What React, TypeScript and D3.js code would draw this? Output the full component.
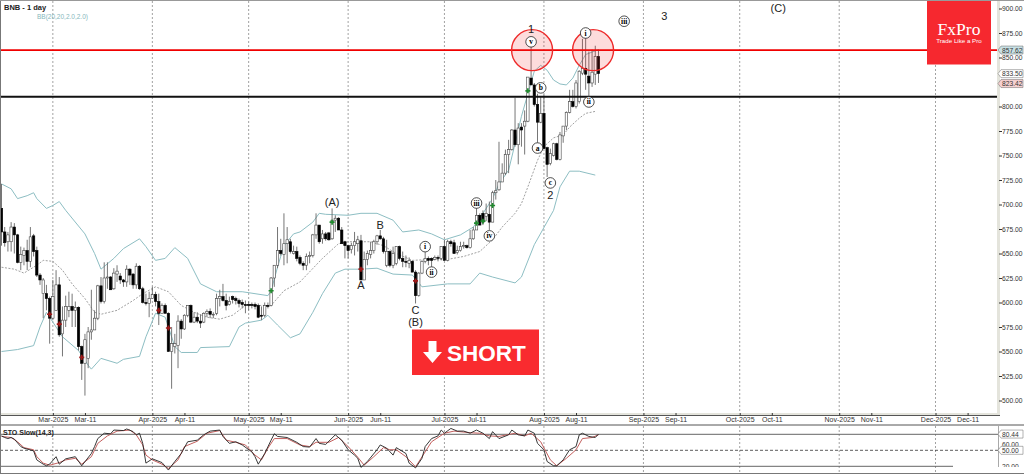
import { useEffect, useRef } from 'react'
import * as d3 from 'd3'

const WIDTH = 1024
const HEIGHT = 474
const firstDay = new Date(Date.UTC(2025, 1, 13))

// open, high, low, close, one row per day from 13 Feb 2025
const candles: number[][] = [
  [696,721,658,672],[672,677,657,661],[662,672,652,669],[662,682,652,677],[677,681,650,669],
  [669,670,640,641],[641,657,633,649],[648,656,638,653],[653,664,633,642],[642,677,636,667],
  [668,670,647,652],[653,657,626,628],[628,630,618,623],[609,625,584,623],[609,618,592,604],
  [604,606,558,584],[584,623,582,606],[592,633,592,618],[618,626,565,567],[568,596,545,582],
  [582,607,575,596],[592,611,585,596],[596,609,575,592],[592,601,575,595],[595,596,551,555],
  [555,556,521,538],[538,568,505,562],[543,575,533,570],[570,613,562,572],[572,592,572,584],
  [584,618,582,617],[617,626,599,601],[601,641,599,625],[625,641,614,626],[626,627,613,613],
  [614,635,613,630],[629,638,621,632],[627,630,619,623],[623,624,616,621],[621,638,616,634],
  [634,635,618,628],[629,630,614,618],[618,640,614,637],[637,638,613,614],[614,616,599,600],
  [600,609,597,599],[599,611,585,604],[604,616,604,608],[608,611,596,601],[601,609,577,589],
  [589,599,589,597],[597,599,589,589],[589,590,550,550],[550,575,512,558],[555,568,548,558],
  [556,587,533,581],[581,583,563,573],[573,588,572,587],[587,597,585,597],[597,598,579,580],
  [580,590,579,585],[585,590,579,581],[581,588,574,579],[580,590,579,589],[589,593,585,591],
  [591,594,584,588],[588,590,584,588],[589,609,587,604],[604,613,596,606],[606,619,601,602],
  [602,609,592,597],[598,606,597,601],[606,607,599,603],[604,606,598,602],[602,604,595,599],
  [600,603,594,598],[598,602,589,597],[598,601,592,597],[598,600,594,597],[598,600,593,596],
  [597,599,584,585],[587,596,582,586],[587,600,585,597],[597,600,594,596],[597,626,596,625],
  [625,638,616,638],[638,677,635,653],[653,665,648,650],[649,691,638,660],[660,677,640,664],
  [662,665,650,652],[650,658,649,652],[652,657,642,645],[646,648,638,640],[640,642,633,638],
  [638,650,633,647],[647,652,640,648],[648,670,646,669],[669,691,665,679],[679,679,660,662],
  [665,674,660,670],[670,672,663,665],[671,672,663,664],[665,696,664,684],[684,689,672,686],
  [686,687,674,674],[674,677,660,660],[662,663,645,658],[658,659,645,653],[654,661,650,658],
  [658,672,648,662],[660,668,652,664],[663,669,623,623],[623,652,623,644],[644,653,638,650],
  [649,662,645,653],[653,664,650,662],[662,669,659,668],[668,674,664,665],[665,667,650,652],
  [638,664,636,652],[652,653,636,638],[638,657,635,650],[640,657,638,657],[657,658,643,645],
  [645,652,636,642],[642,648,636,641],[640,646,635,643],[642,643,631,631],[631,633,599,607],
  [607,631,606,630],[630,643,629,642],[642,653,640,645],[645,647,638,643],[645,646,636,643],
  [644,648,643,646],[646,648,642,645],[645,657,643,657],[657,664,643,643],[643,664,642,662],
  [662,664,657,660],[661,664,650,650],[651,658,649,653],[653,662,652,657],[657,662,655,658],
  [658,659,655,656],[656,674,655,665],[665,677,664,674],[674,698,674,689],[689,691,679,679],
  [691,694,679,682],[688,701,683,691],[690,703,674,682],[682,714,682,712],[712,725,705,714],
  [715,764,714,723],[723,742,723,732],[732,756,730,751],[751,766,732,756],[756,777,755,776],
  [776,809,759,761],[761,783,741,778],[779,783,759,776],[780,796,751,785],[785,830,784,830],
  [829,865,822,822],[822,824,800,802],[802,813,763,784],[784,810,783,793],[793,812,757,757],
  [758,759,728,741],[742,757,740,752],[750,763,749,762],[762,763,745,746],[746,774,745,771],
  [770,780,763,780],[780,795,776,794],[794,817,793,805],[805,817,799,800],[800,827,798,824],
  [805,837,803,836],[834,869,832,839],[839,870,817,833],[831,856,810,824],[824,858,820,835],
  [833,862,822,851],[851,858,824,833.5],
]

// Bollinger bands, read as [day index, price]
const bbUpper: number[][] = [
  [0,721],[3,716],[5,706],[8,709],[10,712],[11,706],[14,696],[16,699],[18,703],[20,694],[25,674],[26,670],
  [29,650],[31,634],[35,645],[38,655],[43,665],[45,657],[48,643],[51,645],[54,656],[58,645],[62,619],[67,611],
  [75,611],[83,607],[84,612],[86,636],[88,658],[91,670],[93,672],[97,682],[99,691],[101,690],[108,689],[112,691],
  [117,691],[122,684],[125,672],[130,674],[134,670],[138,664],[143,669],[147,677],[150,691],[153,706],[155,721],
  [158,735],[160,762],[162,790],[164,813],[166,836],[168,842],[170,837],[172,827],[174,823],[176,822],[178,829],
  [180,842],[182,853],[186,858],
]
const bbMiddle: number[][] = [
  [0,636],[4,634],[7,630],[11,638],[13,643],[16,642],[19,633],[22,619],[26,604],[29,590],[31,588],[36,592],
  [41,602],[44,609],[48,616],[52,611],[56,597],[60,590],[64,585],[68,583],[72,587],[76,597],[80,597],[84,597],
  [88,612],[93,621],[100,645],[105,660],[108,662],[115,662],[119,658],[123,650],[128,643],[134,644],[139,644],
  [144,647],[149,652],[153,664],[156,677],[160,691],[162,701],[164,718],[167,745],[169,759],[172,768],[175,771],
  [177,779],[180,788],[182,793],[185,795],
]
const bbLower: number[][] = [
  [0,550],[5,552],[10,556],[12,575],[14,590],[17,575],[19,565],[24,551],[27,536],[28,532],[31,543],[36,538],
  [38,542],[43,545],[45,565],[48,589],[51,585],[54,555],[56,549],[61,549],[62,554],[71,555],[74,575],[76,579],
  [81,582],[83,587],[86,577],[90,564],[93,568],[97,590],[100,609],[104,630],[107,634],[112,634],[117,635],[122,629],
  [128,628],[131,616],[139,619],[146,619],[149,630],[153,626],[160,620],[162,626],[166,659],[172,694],[174,718],
  [177,734],[180,734],[185,730],
]

// Stochastic lines, read as [day index, value]
const stochK: number[][] = [
  [0,77],[1,74],[2,72],[3,74],[4,71],[6,57],[7,54],[10,49],[11,32],[13,24],[14,21],[15,24],[17,38],[18,24],[20,34],
  [23,38],[25,21],[28,44],[29,57],[30,72],[32,82],[34,81],[35,88],[38,87],[39,90],[41,85],[42,79],[43,82],[44,63],
  [45,26],[47,34],[50,27],[52,13],[54,29],[56,44],[58,66],[61,69],[63,79],[65,86],[68,88],[69,76],[71,63],[73,66],
  [75,60],[78,47],[79,38],[80,24],[82,44],[84,69],[85,81],[86,76],[89,74],[92,65],[94,57],[96,56],[98,72],[99,63],
  [101,61],[104,79],[106,69],[108,51],[110,41],[111,35],[112,18],[114,29],[117,51],[118,60],[120,54],[122,41],[123,55],
  [126,44],[127,26],[129,17],[131,35],[132,57],[134,72],[136,77],[137,88],[138,82],[140,91],[142,86],[144,86],[146,82],
  [148,88],[150,82],[152,72],[153,85],[155,72],[158,79],[159,88],[161,79],[163,77],[164,88],[166,82],[167,63],[169,51],
  [170,29],[172,21],[173,21],[175,32],[177,51],[179,57],[180,79],[181,82],[183,76],[185,74],[186,80.44],
]
const stochD: number[][] = [
  [0,76],[3,74],[5,66],[7,55],[10,51],[11,38],[13,26],[15,22],[18,27],[20,32],[23,35],[25,24],[28,38],[30,63],[33,77],
  [36,86],[40,88],[42,79],[44,60],[45,41],[47,32],[50,24],[52,16],[55,32],[57,57],[61,67],[64,82],[68,87],[70,69],
  [73,65],[76,60],[79,41],[81,32],[83,54],[85,72],[89,72],[93,60],[96,57],[98,65],[102,65],[105,74],[108,57],[111,37],
  [113,22],[116,38],[119,55],[121,51],[123,51],[126,38],[129,19],[132,47],[134,66],[138,82],[141,86],[146,83],[149,82],
  [152,77],[155,76],[160,82],[163,77],[165,82],[168,66],[171,32],[173,21],[176,35],[179,51],[181,72],[184,74],[186,79],
]

const stochLevels = [80, 50, 20]
const priceTicks = d3.range(500, 925, 25)
const months = [2, 3, 4, 5, 6, 7, 8, 9, 10, 11]
const timeTicks = months.flatMap(m => [new Date(Date.UTC(2025, m, 1)), new Date(Date.UTC(2025, m, 11))])
const monthStarts = months.map(m => new Date(Date.UTC(2025, m, 1)))

const resistance = 857.62
const support = 810

const sellSignals: number[][] = [[15,588],[18,578],[25,544],[49,592],[52,574],[112,634],[129,622]]
const buySignals: number[][] = [[84,612],[103,682],[148,681],[150,683],[153,699],[164,816]]

const waveLabels: [number, number, string][] = [
  [165,879,'1'],[171,710,'2'],[206.5,892,'3'],[242,901,'(C)'],[103,702.5,'(A)'],[129,580,'(B)'],
  [112,618,'A'],[118,679,'B'],[129,592,'C'],
]
const circledLabels: [number, number, string][] = [
  [132,657,'i'],[134,631,'ii'],[148,701.5,'iii'],[152,668,'iv'],[165,866,'v'],[182,875,'i'],
  [183,804.6,'ii'],[194,887,'iii'],[167,757.6,'a'],[168,819,'b'],[171,722,'c'],
]
const zones: number[][] = [[165,857.5],[184,857.5]]

const priceTags: [number, string, string][] = [
  [857.62,'857.62','#c8e0e4'],[833.5,'833.50','#ffffff'],[823.42,'823.42','#f7d0d0'],
]
const stochTags: [number, string][] = [[80.44,'80.44'],[50,'50.00']]

export default function App() {
  const svgRef = useRef<SVGSVGElement>(null)

  useEffect(() => {
    if (!svgRef.current) return
    const svg = d3.select(svgRef.current)
    svg.selectAll('*').remove()

    const plotRight = 998
    const mainBottom = 414
    const font = 'Liberation Sans, Arial, sans-serif'

    const day = (i: number) => d3.utcDay.offset(firstDay, Math.floor(i)).getTime() + (i % 1) * 864e5
    const x = d3.scaleUtc()
      .domain([firstDay, new Date(Date.UTC(2025, 11, 1))])
      .range([1.5, 935.5])
    const y = d3.scaleLinear().domain([500, 900]).range([400.5, 8.5])
    const ySto = d3.scaleLinear().domain([20, 80]).range([466.3, 434.3])

    const defs = svg.append('defs')
    defs.append('clipPath').attr('id', 'mainClip').append('rect')
      .attr('x', 1).attr('y', 1).attr('width', plotRight - 1).attr('height', mainBottom - 1)
    defs.append('clipPath').attr('id', 'stoClip').append('rect')
      .attr('x', 0).attr('y', 426).attr('width', plotRight).attr('height', 46)
    defs.append('clipPath').attr('id', 'stoAxisClip').append('rect')
      .attr('x', plotRight).attr('y', 426).attr('width', 26).attr('height', 41)

    svg.append('rect').attr('width', WIDTH).attr('height', HEIGHT).attr('fill', '#fff')

    // Month grid, both panels
    const grid = svg.append('g').attr('stroke', '#8a8a8a').attr('stroke-width', 0.8).attr('stroke-dasharray', '2,2')
    monthStarts.forEach(d => {
      grid.append('line').attr('x1', x(d)).attr('x2', x(d)).attr('y1', 1).attr('y2', 414)
      grid.append('line').attr('x1', x(d)).attr('x2', x(d)).attr('y1', 426).attr('y2', 473)
    })

    const main = svg.append('g').attr('clip-path', 'url(#mainClip)')

    // Bollinger bands
    const bandLine = d3.line<number[]>().x(d => x(day(d[0]))).y(d => y(d[1]))
    ;[bbUpper, bbLower].forEach(band => {
      main.append('path').datum(band).attr('d', bandLine)
        .attr('fill', 'none').attr('stroke', '#8dbec3').attr('stroke-width', 1)
    })
    main.append('path').datum(bbMiddle).attr('d', bandLine)
      .attr('fill', 'none').attr('stroke', '#777').attr('stroke-width', 0.7).attr('stroke-dasharray', '2,1.5')

    // Candles
    const candle = main.selectAll('.candle').data(candles).enter().append('g')
    candle.append('line')
      .attr('x1', (_, i) => x(day(i))).attr('x2', (_, i) => x(day(i)))
      .attr('y1', d => y(d[1])).attr('y2', d => y(d[2]))
      .attr('stroke', '#666').attr('stroke-width', 0.9)
    candle.append('rect')
      .attr('x', (_, i) => x(day(i)) - 1.2).attr('width', 2.4)
      .attr('y', d => y(Math.max(d[0], d[3])))
      .attr('height', d => Math.max(0.8, Math.abs(y(d[0]) - y(d[3]))))
      .attr('fill', d => d[3] >= d[0] ? '#fff' : '#000')
      .attr('stroke', d => d[3] >= d[0] ? '#444' : '#000')
      .attr('stroke-width', 0.6)

    // Signal arrows
    const mark = d3.symbol().type(d3.symbolCross).size(14)
    main.selectAll('.sell').data(sellSignals).enter().append('path').attr('d', mark)
      .attr('transform', d => `translate(${x(day(d[0]))},${y(d[1])})`).attr('fill', '#a01818')
    main.selectAll('.buy').data(buySignals).enter().append('path').attr('d', mark)
      .attr('transform', d => `translate(${x(day(d[0]))},${y(d[1])})`).attr('fill', '#1f8a2e')

    // Horizontal levels
    main.append('line').attr('x1', 0).attr('x2', plotRight).attr('y1', y(resistance)).attr('y2', y(resistance))
      .attr('stroke', '#f00000').attr('stroke-width', 1.8)
    main.append('line').attr('x1', 0).attr('x2', plotRight).attr('y1', y(support)).attr('y2', y(support))
      .attr('stroke', '#111').attr('stroke-width', 2)

    // Highlight circles
    main.selectAll('.zone').data(zones).enter().append('circle')
      .attr('cx', d => x(day(d[0])) + 1).attr('cy', d => y(d[1]))
      .attr('r', 20.5)
      .attr('fill', 'rgba(240,40,40,0.16)').attr('stroke', '#ee2a2a').attr('stroke-width', 1.4)

    // Wave labels
    main.selectAll('.wave').data(waveLabels).enter().append('text')
      .attr('x', d => x(day(d[0]))).attr('y', d => y(d[1]))
      .attr('text-anchor', 'middle').attr('dominant-baseline', 'central')
      .style('font', `11px ${font}`).style('fill', '#222').text(d => d[2])
    const circled = main.selectAll('.circled').data(circledLabels).enter().append('g')
      .attr('transform', d => `translate(${x(day(d[0]))},${y(d[1])})`)
    circled.append('circle').attr('r', 5.3).attr('fill', '#fff').attr('stroke', '#222').attr('stroke-width', 0.8)
    circled.append('text').attr('text-anchor', 'middle').attr('dominant-baseline', 'central')
      .style('font', 'bold 7.5px Liberation Serif, serif').style('fill', '#000').text(d => d[2])

    // Chart title
    svg.append('text').attr('x', 4).attr('y', 9.5)
      .style('font', `bold 7.5px ${font}`).style('fill', '#222').text('BNB - 1 day')
    svg.append('text').attr('x', 37).attr('y', 18.5)
      .style('font', `6.5px ${font}`).style('fill', '#86b8bd').text('BB(20,20,2.0,2.0)')

    // FxPro logo
    svg.append('rect').attr('x', 927).attr('y', 0).attr('width', 64).attr('height', 64.5).attr('fill', '#f6282f')
    svg.append('text').attr('x', 959).attr('y', 34.5).attr('text-anchor', 'middle')
      .style('font', '17.5px Liberation Serif, serif').style('fill', '#fff').text('FxPro')
    svg.append('text').attr('x', 959).attr('y', 42.5).attr('text-anchor', 'middle')
      .style('font', `6.2px ${font}`).style('fill', '#fff').text('Trade Like a Pro')

    // Short banner
    svg.append('rect').attr('x', 412).attr('y', 329.5).attr('width', 127).attr('height', 45.5).attr('fill', '#f92b2f')
    const ax = 432.5
    const ay = 341
    svg.append('path')
      .attr('d', d3.line()([[ax - 4, ay], [ax + 4, ay], [ax + 4, ay + 11], [ax + 9.5, ay + 11], [ax, ay + 22], [ax - 9.5, ay + 11], [ax - 4, ay + 11]]) + 'Z')
      .attr('fill', '#fff')
    svg.append('text').attr('x', 447).attr('y', 361)
      .style('font', `bold 22.5px ${font}`).style('fill', '#fff').text('SHORT')

    // Price axis
    svg.append('rect').attr('x', plotRight - 1).attr('y', 0).attr('width', 3).attr('height', 416).attr('fill', '#e4e4dc')
    const priceAxis = svg.append('g').attr('transform', `translate(${plotRight + 1},0)`)
      .call(d3.axisRight(y).tickValues(priceTicks).tickSize(3).tickPadding(0).tickFormat(d3.format('.2f')))
    priceAxis.select('.domain').remove()
    priceAxis.selectAll('line').attr('stroke', '#333')
    priceAxis.selectAll('text').style('font', `6.7px ${font}`).style('fill', '#333')

    const tag = (g: d3.Selection<any, any, any, any>, py: number, label: string, fill: string) => {
      const left = plotRight
      g.append('path')
        .attr('d', `M${left},${py}L${left + 3},${py - 4}H1023V${py + 4}H${left + 3}Z`)
        .attr('fill', fill).attr('stroke', '#666').attr('stroke-width', 0.5)
      g.append('text').attr('x', left + 4).attr('y', py + 2.5)
        .style('font', `6.7px ${font}`).style('fill', '#333').text(label)
    }
    priceTags.forEach(d => tag(svg, y(d[0]), d[1], d[2]))

    // Time axis
    svg.append('rect').attr('x', 0).attr('y', 413).attr('width', 1000).attr('height', 2).attr('fill', '#e4e4dc')
    svg.append('line').attr('x1', 0).attr('x2', 1000).attr('y1', 415.5).attr('y2', 415.5).attr('stroke', '#555')
    const timeAxis = svg.append('g').attr('transform', 'translate(0,413)')
      .call(d3.axisBottom(x).tickValues(timeTicks).tickSize(2.5).tickPadding(2)
        .tickFormat((d: any) => (d.getUTCDate() === 1 ? d3.utcFormat('%b-%Y')(d) : d3.utcFormat('%b-%d')(d))))
    timeAxis.select('.domain').remove()
    timeAxis.selectAll('line').attr('stroke', '#333')
    timeAxis.selectAll('text').style('font', `7px ${font}`).style('fill', '#333')

    // Stochastic panel
    svg.append('line').attr('x1', 0).attr('x2', WIDTH).attr('y1', 425).attr('y2', 425).attr('stroke', '#555')
    stochLevels.forEach(v => {
      svg.append('line')
        .attr('x1', 0).attr('x2', v === 20 ? 953 : plotRight).attr('y1', ySto(v)).attr('y2', ySto(v))
        .attr('stroke', v === 50 ? '#333' : '#666').attr('stroke-width', v === 50 ? 0.8 : 1)
        .attr('stroke-dasharray', v === 50 ? '3,2' : null)
    })
    const stoLine = d3.line<number[]>().x(d => x(day(d[0]))).y(d => ySto(d[1]))
    const stoG = svg.append('g').attr('clip-path', 'url(#stoClip)')
    stoG.append('path').datum(stochD).attr('d', stoLine)
      .attr('fill', 'none').attr('stroke', '#c4605e').attr('stroke-width', 1)
    stoG.append('path').datum(stochK).attr('d', stoLine)
      .attr('fill', 'none').attr('stroke', '#222').attr('stroke-width', 0.9)
    svg.append('text').attr('x', 3).attr('y', 434.5)
      .style('font', `bold 7px ${font}`).style('fill', '#222').text('STO Slow(14,3)')

    const stoAxis = svg.append('g').attr('clip-path', 'url(#stoAxisClip)')
    stoAxis.append('line').attr('x1', plotRight).attr('x2', plotRight).attr('y1', 426).attr('y2', 467).attr('stroke', '#555')
    ;[60, 20].forEach(v => {
      stoAxis.append('text').attr('x', plotRight + 4).attr('y', ySto(v) + 2.5)
        .style('font', `6.7px ${font}`).style('fill', '#333').text(d3.format('.2f')(v))
    })
    stochTags.forEach(d => tag(stoAxis, ySto(d[0]), d[1], '#fff'))

    // Outer frame
    svg.append('line').attr('x1', 0.5).attr('x2', 0.5).attr('y1', 0).attr('y2', 474).attr('stroke', '#777')
    svg.append('line').attr('x1', 0).attr('x2', WIDTH).attr('y1', 0.5).attr('y2', 0.5).attr('stroke', '#999')
    svg.append('line').attr('x1', 0).attr('x2', WIDTH).attr('y1', 473.5).attr('y2', 473.5).attr('stroke', '#777')
  }, [])

  return <svg ref={svgRef} width={WIDTH} height={HEIGHT} style={{ position: 'absolute', left: 0, top: 0, display: 'block' }} />
}
